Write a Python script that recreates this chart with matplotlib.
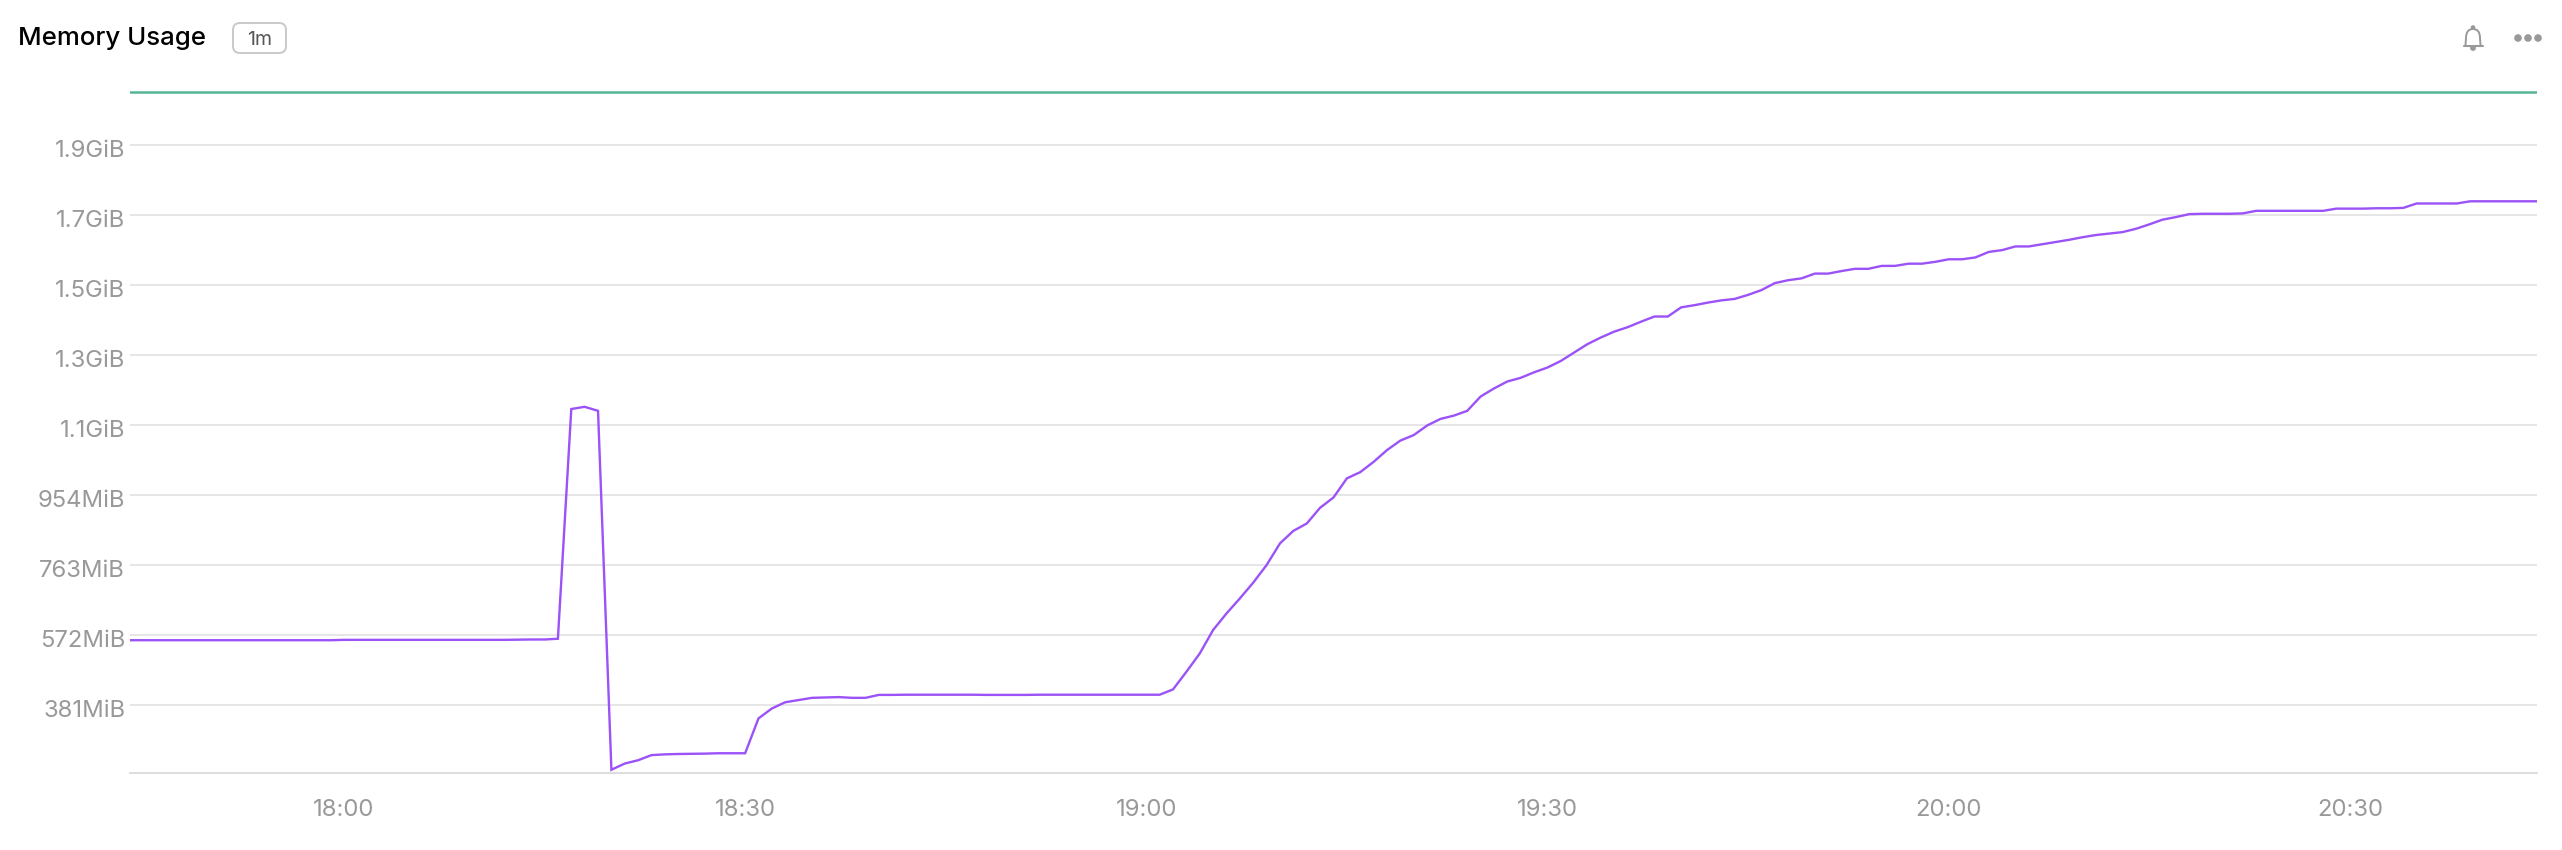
import matplotlib
matplotlib.use('Agg')
import matplotlib.pyplot as plt
import matplotlib.dates as mdates
import pandas as pd
from matplotlib.patches import Circle, FancyBboxPatch, PathPatch
from matplotlib.path import Path
from matplotlib.transforms import ScaledTranslation

plt.rcParams['font.family'] = ['Inter', 'DejaVu Sans']

# una muestra por minuto, de 17:44 a 20:44 (MiB)
mem_before_spike = [558] * 16 + [559] * 13 + [559.5, 560, 560, 562]
mem_spike = [1188, 1194, 1183]
mem_plateau = [205, 222, 231, 245, 247, 248, 248.5, 249, 250, 250, 250,
               345, 372, 389, 395, 401, 402, 403, 401, 401,
               409, 409, 409.5, 409.5, 409.5, 409.5, 409.5, 409.5, 409, 409, 409,
               409, 409.5, 409.5, 409.5, 409.5, 409.5, 409.5, 409.5, 409.5, 409.5, 409.5]
mem_growth = [424, 472, 522, 586, 631, 672, 715, 763, 822, 856,
              876, 919, 947, 999, 1016, 1044, 1076, 1102, 1117, 1143,
              1161, 1170, 1183, 1222, 1244, 1263, 1273, 1288, 1301, 1319,
              1342, 1365, 1383, 1399, 1411, 1426, 1440, 1440]
mem_late = [1465, 1471, 1478, 1484, 1488, 1499, 1512, 1531, 1539, 1544,
            1557, 1557, 1564, 1570, 1570, 1578, 1578, 1584, 1584, 1589,
            1596, 1596, 1601, 1616, 1621, 1631, 1631, 1637, 1643, 1649,
            1656, 1662, 1666, 1670, 1679, 1691, 1704, 1711, 1719, 1720,
            1720, 1720, 1721, 1728, 1728, 1728, 1728, 1728, 1728, 1734,
            1734, 1734, 1735, 1735, 1736, 1748, 1748, 1748, 1748, 1754,
            1754, 1754, 1754, 1754, 1754]
memory_mib = mem_before_spike + mem_spike + mem_plateau + mem_growth + mem_late

limit_mib = 2051
y_ticks = [381.47, 572.2, 762.94, 953.67, 1144.4, 1335.13, 1525.88, 1716.6, 1907.35]
y_labels = ['381MiB', '572MiB', '763MiB', '954MiB', '1.1GiB', '1.3GiB', '1.5GiB', '1.7GiB', '1.9GiB']
x_labels = ['18:00', '18:30', '19:00', '19:30', '20:00', '20:30']

times = pd.date_range('2024-01-01 17:44', periods=len(memory_mib), freq='min')
x_ticks = pd.to_datetime(['2024-01-01 ' + t for t in x_labels])

W, H = 2562, 850
fig = plt.figure(figsize=(W / 100, H / 100), dpi=100)
ax = fig.add_axes([130 / W, 1 - 773 / H, 2407 / W, 693 / H])

ax.plot(times, memory_mib, color='#9B52F6', lw=1.7, solid_joinstyle='miter', zorder=3)
ax.axhline(limit_mib, color='#55B592', lw=1.8, zorder=2)

ax.set_xlim(times[0], times[-1])
ax.set_ylim(196.2, 2084.5)
ax.set_yticks(y_ticks, y_labels)
ax.set_xticks(x_ticks)
ax.xaxis.set_major_formatter(mdates.DateFormatter('%H:%M'))
ax.grid(axis='y', color='#E6E6E6', lw=1.4, zorder=1)
ax.tick_params(axis='both', length=0, labelsize=17.2, labelcolor='#999999')
ax.tick_params(axis='y', pad=3.5)
ax.tick_params(axis='x', pad=19)

for side in ['top', 'left', 'right']:
    ax.spines[side].set_visible(False)
ax.spines['bottom'].set_color('#DDDDDD')
ax.spines['bottom'].set_linewidth(1.4)

# las etiquetas del eje y van un poco por debajo de la linea
y_offset = ScaledTranslation(0, -3 / 100, fig.dpi_scale_trans)
for label in ax.get_yticklabels():
    label.set_transform(label.get_transform() + y_offset)

# capa en pixeles para titulo, etiqueta e iconos
top = fig.add_axes([0, 0, 1, 1], facecolor='none')
top.set_xlim(0, W)
top.set_ylim(H, 0)
top.axis('off')

top.text(18, 38, 'Memory Usage', fontsize=18.6, fontweight='medium', color='black', va='center')
top.add_patch(FancyBboxPatch((239, 29), 41, 18, boxstyle='round,pad=6,rounding_size=7',
                             fc='white', ec='#C9C9C9', lw=1.4))
top.text(260, 39.5, '1m', fontsize=14, color='#555555', ha='center', va='center')

bell = Path([(2465.5, 45), (2466, 38), (2466, 29), (2473, 29), (2480, 29), (2480, 38), (2480.5, 45)],
            [Path.MOVETO, Path.LINETO, Path.CURVE3, Path.CURVE3, Path.CURVE3, Path.CURVE3, Path.LINETO])
top.add_patch(PathPatch(bell, fc='none', ec='#999999', lw=1.4))
top.plot([2463.5, 2482.5], [45.5, 45.5], color='#999999', lw=1.5, solid_capstyle='round')
top.add_patch(Circle((2473, 27.5), 1.6, color='#999999'))
top.add_patch(Circle((2473, 48), 2.2, color='#999999'))
for cx in [2518, 2528, 2538]:
    top.add_patch(Circle((cx, 38), 3.1, color='#999999'))

fig.savefig('out.png', dpi=100, facecolor='white')
